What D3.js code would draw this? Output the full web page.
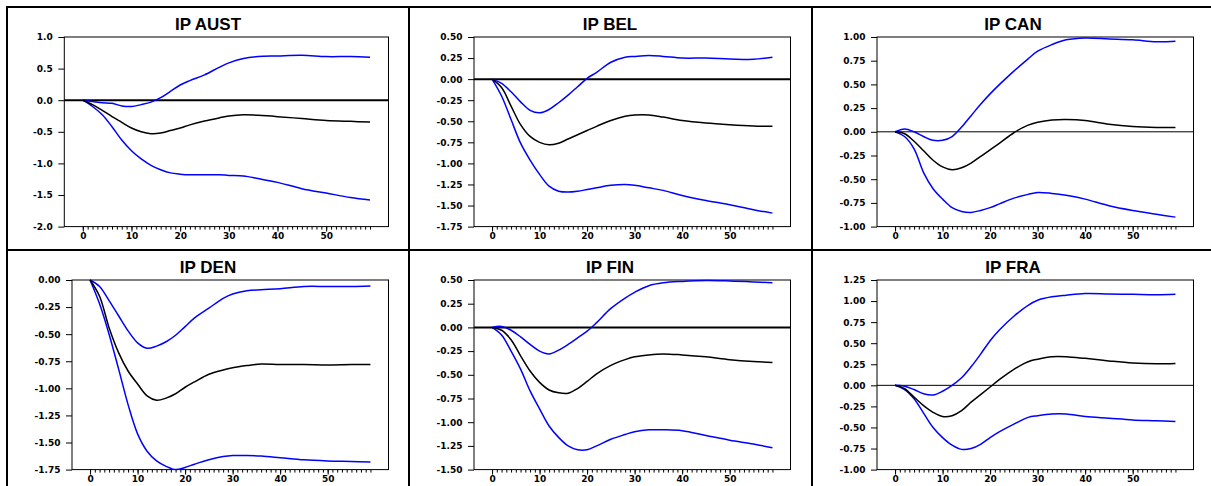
<!DOCTYPE html>
<html>
<head>
<meta charset="utf-8">
<script src="https://cdn.jsdelivr.net/npm/d3@7"></script>
<style>
  body { margin: 0; background: #fff; }
  svg { display: block; }
  .tick text { font-family: "DejaVu Sans", sans-serif; font-weight: bold; font-size: 9px; fill: #000; }
  .title { font-family: "Liberation Sans", Arial, sans-serif; font-weight: bold; font-size: 17px; }
</style>
</head>
<body>
<svg id="chart" width="1211" height="486"></svg>
<script>
var horizons = [0, 2, 4, 6, 8, 10, 12, 14, 16, 18, 20, 22, 25, 28, 30, 33, 36, 40, 45, 50, 55, 59];

var titles = ["IP AUST", "IP BEL", "IP CAN", "IP DEN", "IP FIN", "IP FRA"];

var yTicksAUST = [-2.0, -1.5, -1.0, -0.5, 0.0, 0.5, 1.0];
var yTicksBEL = [-1.75, -1.50, -1.25, -1.00, -0.75, -0.50, -0.25, 0.00, 0.25, 0.50];
var yTicksCAN = [-1.00, -0.75, -0.50, -0.25, 0.00, 0.25, 0.50, 0.75, 1.00];
var yTicksDEN = [-1.75, -1.50, -1.25, -1.00, -0.75, -0.50, -0.25, 0.00];
var yTicksFIN = [-1.50, -1.25, -1.00, -0.75, -0.50, -0.25, 0.00, 0.25, 0.50];
var yTicksFRA = [-1.00, -0.75, -0.50, -0.25, 0.00, 0.25, 0.50, 0.75, 1.00, 1.25];

var xTicks = [0, 10, 20, 30, 40, 50];

// point estimate (black), upper and lower bands (blue)
var midAUST = [0, -0.07, -0.16, -0.26, -0.35, -0.44, -0.5, -0.53, -0.52, -0.48, -0.44, -0.39, -0.33, -0.28, -0.25, -0.23, -0.24, -0.26, -0.29, -0.32, -0.335, -0.345];
var upAUST  = [0, -0.02, -0.04, -0.05, -0.09, -0.1, -0.07, -0.03, 0.04, 0.14, 0.24, 0.31, 0.4, 0.52, 0.59, 0.66, 0.69, 0.70, 0.71, 0.69, 0.69, 0.68];
var loAUST  = [0, -0.1, -0.23, -0.42, -0.63, -0.8, -0.93, -1.03, -1.1, -1.15, -1.17, -1.18, -1.18, -1.18, -1.19, -1.2, -1.24, -1.3, -1.4, -1.47, -1.54, -1.58];

var midBEL = [0, -0.1, -0.32, -0.54, -0.68, -0.75, -0.78, -0.76, -0.71, -0.66, -0.61, -0.56, -0.49, -0.44, -0.425, -0.425, -0.45, -0.49, -0.52, -0.54, -0.555, -0.56];
var upBEL  = [0, -0.05, -0.15, -0.27, -0.37, -0.4, -0.36, -0.28, -0.19, -0.09, 0.01, 0.08, 0.2, 0.26, 0.27, 0.28, 0.27, 0.25, 0.25, 0.24, 0.235, 0.26];
var loBEL  = [0, -0.2, -0.48, -0.76, -0.96, -1.13, -1.27, -1.33, -1.34, -1.33, -1.31, -1.29, -1.26, -1.25, -1.26, -1.29, -1.32, -1.38, -1.44, -1.49, -1.55, -1.59];

var midCAN = [0, -0.02, -0.1, -0.2, -0.3, -0.37, -0.4, -0.38, -0.33, -0.26, -0.19, -0.12, -0.01, 0.07, 0.1, 0.125, 0.13, 0.12, 0.08, 0.055, 0.045, 0.045];
var upCAN  = [0, 0.03, 0.0, -0.05, -0.09, -0.09, -0.05, 0.05, 0.17, 0.29, 0.4, 0.5, 0.64, 0.77, 0.85, 0.92, 0.97, 0.99, 0.98, 0.97, 0.95, 0.955];
var loCAN  = [0, -0.05, -0.18, -0.43, -0.6, -0.71, -0.8, -0.84, -0.85, -0.83, -0.8, -0.76, -0.7, -0.66, -0.64, -0.65, -0.67, -0.71, -0.78, -0.83, -0.87, -0.9];

var midDEN = [0, -0.15, -0.44, -0.67, -0.84, -0.96, -1.07, -1.11, -1.09, -1.05, -0.99, -0.94, -0.87, -0.83, -0.81, -0.79, -0.775, -0.78, -0.78, -0.785, -0.78, -0.78];
var upDEN  = [0, -0.06, -0.19, -0.33, -0.47, -0.58, -0.63, -0.61, -0.57, -0.51, -0.43, -0.35, -0.26, -0.17, -0.13, -0.1, -0.09, -0.08, -0.06, -0.06, -0.06, -0.055];
var loDEN  = [0, -0.22, -0.5, -0.82, -1.15, -1.42, -1.58, -1.67, -1.72, -1.75, -1.73, -1.7, -1.66, -1.63, -1.62, -1.62, -1.625, -1.64, -1.66, -1.67, -1.675, -1.68];

var midFIN = [0, -0.03, -0.13, -0.3, -0.46, -0.58, -0.66, -0.69, -0.695, -0.645, -0.57, -0.49, -0.4, -0.34, -0.31, -0.29, -0.28, -0.29, -0.31, -0.34, -0.36, -0.37];
var upFIN  = [0, 0.01, -0.03, -0.1, -0.18, -0.25, -0.28, -0.24, -0.18, -0.11, -0.04, 0.05, 0.2, 0.31, 0.37, 0.44, 0.47, 0.485, 0.495, 0.49, 0.48, 0.47];
var loFIN  = [0, -0.08, -0.25, -0.44, -0.67, -0.86, -1.04, -1.16, -1.25, -1.29, -1.29, -1.25, -1.18, -1.13, -1.1, -1.08, -1.08, -1.09, -1.14, -1.19, -1.23, -1.27];

var midFRA = [0, -0.04, -0.14, -0.24, -0.32, -0.37, -0.36, -0.3, -0.2, -0.11, -0.02, 0.07, 0.19, 0.28, 0.31, 0.34, 0.34, 0.32, 0.29, 0.265, 0.255, 0.26];
var upFRA  = [0, -0.01, -0.05, -0.1, -0.115, -0.07, 0.0, 0.09, 0.22, 0.37, 0.53, 0.66, 0.82, 0.95, 1.01, 1.05, 1.07, 1.09, 1.085, 1.08, 1.075, 1.08];
var loFRA  = [0, -0.05, -0.16, -0.33, -0.5, -0.62, -0.71, -0.76, -0.75, -0.7, -0.62, -0.55, -0.46, -0.38, -0.36, -0.34, -0.34, -0.37, -0.39, -0.41, -0.42, -0.43];

var panels = [
    { title: titles[0], ticks: yTicksAUST, fmt: ".1f", mid: midAUST, up: upAUST, lo: loAUST, zero: 2 },
    { title: titles[1], ticks: yTicksBEL,  fmt: ".2f", mid: midBEL,  up: upBEL,  lo: loBEL,  zero: 2 },
    { title: titles[2], ticks: yTicksCAN,  fmt: ".2f", mid: midCAN,  up: upCAN,  lo: loCAN,  zero: 1 },
    { title: titles[3], ticks: yTicksDEN,  fmt: ".2f", mid: midDEN,  up: upDEN,  lo: loDEN,  zero: 0 },
    { title: titles[4], ticks: yTicksFIN,  fmt: ".2f", mid: midFIN,  up: upFIN,  lo: loFIN,  zero: 2 },
    { title: titles[5], ticks: yTicksFRA,  fmt: ".2f", mid: midFRA,  up: upFRA,  lo: loFRA,  zero: 1 }
];

var svg = d3.select("#chart");
var colX = [7, 409, 812];
var rowY = [7, 250];
var cellW = 402;

// outer grid of cells
[7, 409, 812, 1214].forEach(function(x) {
    svg.append("line").attr("x1", x).attr("x2", x).attr("y1", 6).attr("y2", 494)
        .attr("stroke", "#000").attr("stroke-width", 2);
});
[7, 250, 493].forEach(function(y) {
    svg.append("line").attr("x1", 6).attr("x2", 1215).attr("y1", y).attr("y2", y)
        .attr("stroke", "#000").attr("stroke-width", 2);
});

panels.forEach(function(p, i) {
    var cx = colX[i % 3], cy = rowY[Math.floor(i / 3)];
    var left = cx + (p.fmt == ".1f" ? 57.3 : 65),
        right = cx + 381.5,
        top = cy + 30,
        bottom = cy + 219.6;

    var x = d3.scaleLinear().domain([-3.8, 62.8]).range([left, right]);
    var y = d3.scaleLinear().domain(d3.extent(p.ticks)).range([bottom, top]);

    var g = svg.append("g");

    g.append("text").attr("class", "title")
        .attr("x", cx + cellW / 2).attr("y", cy + 22.5)
        .attr("text-anchor", "middle")
        .text(p.title);

    // y axis
    var ya = g.append("g").attr("transform", "translate(" + left + ",0)")
        .call(d3.axisLeft(y).tickValues(p.ticks).tickSize(6).tickPadding(5.5));
    ya.select(".domain").remove();
    ya.selectAll(".tick text").text(function(d) { return d3.format(p.fmt)(d).replace("−", "-"); });

    // x axis minor ticks at every horizon step
    var xm = g.append("g").attr("transform", "translate(0," + bottom + ")")
        .call(d3.axisBottom(x).tickValues(d3.range(0, 60)).tickFormat("").tickSize(3));
    xm.select(".domain").remove();

    var xa = g.append("g").attr("transform", "translate(0," + bottom + ")")
        .call(d3.axisBottom(x).tickValues(xTicks).tickFormat(d3.format("d")).tickSize(5).tickPadding(1.5));
    xa.select(".domain").remove();

    // frame
    g.append("rect").attr("x", left).attr("y", top)
        .attr("width", right - left).attr("height", bottom - top)
        .attr("fill", "none").attr("stroke", "#000").attr("stroke-width", 1);

    if (p.zero > 0) {
        g.append("line").attr("x1", left).attr("x2", right)
            .attr("y1", y(0)).attr("y2", y(0))
            .attr("stroke", "#000").attr("stroke-width", p.zero);
    }

    var line = d3.line()
        .x(function(d, j) { return x(horizons[j]); })
        .y(function(d) { return y(d); })
        .curve(d3.curveCatmullRom.alpha(0.5));

    [[p.up, "#0000ff"], [p.lo, "#0000ff"], [p.mid, "#000"]].forEach(function(s) {
        g.append("path").datum(s[0])
            .attr("d", line)
            .attr("fill", "none")
            .attr("stroke", s[1])
            .attr("stroke-width", 1.5);
    });
});
</script>
</body>
</html>
